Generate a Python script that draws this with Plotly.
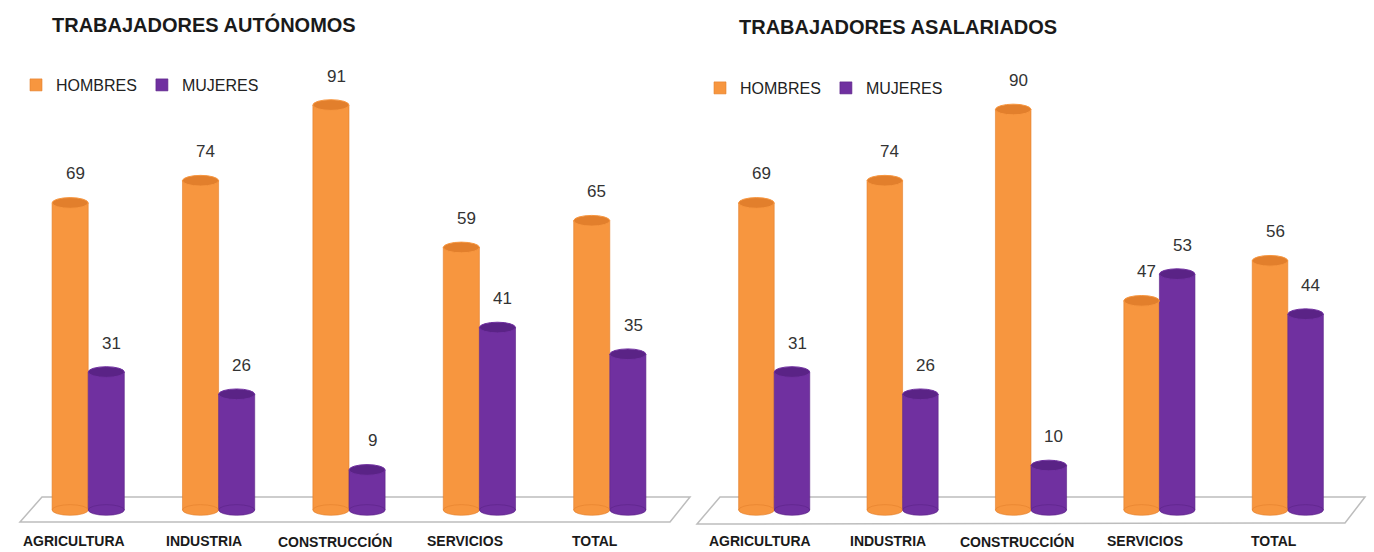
import plotly.graph_objects as go

categories = ["AGRICULTURA", "INDUSTRIA", "CONSTRUCCIÓN", "SERVICIOS", "TOTAL"]
auto_hombres = [69, 74, 91, 59, 65]
auto_mujeres = [31, 26, 9, 41, 35]
asal_hombres = [69, 74, 90, 47, 56]
asal_mujeres = [31, 26, 10, 53, 44]
series_names = ["HOMBRES", "MUJERES"]
titles = ["TRABAJADORES AUTÓNOMOS", "TRABAJADORES ASALARIADOS"]

ORANGE = "#F7963F"
ORANGE_TOP = "#E27F2C"
PURPLE = "#7030A0"
PURPLE_TOP = "#5A2386"
W, H = 1374, 552
BARGAP = 0.446
GW = 1 - BARGAP  # group width in category units


def px(xp):
    return xp / W


def py(yp):
    return 1 - yp / H


fig = go.Figure()
xs = list(range(len(categories)))
panels = [
    (auto_hombres, auto_mujeres, "x", "y", "legend"),
    (asal_hombres, asal_mujeres, "x2", "y2", "legend2"),
]
shapes = []
annotations = []
for hv, mv, xa, ya, lg in panels:
    for name, vals, col, topcol, side in [
        (series_names[0], hv, ORANGE, ORANGE_TOP, -1),
        (series_names[1], mv, PURPLE, PURPLE_TOP, 1),
    ]:
        fig.add_trace(go.Bar(
            x=xs, y=vals, name=name, xaxis=xa, yaxis=ya, legend=lg,
            marker=dict(color=col, line=dict(color=topcol, width=0.6)),
            hoverinfo="y",
        ))
        for i, v in enumerate(vals):
            if side < 0:
                x0, x1 = i - GW / 2, i
            else:
                x0, x1 = i, i + GW / 2
            # cylinder top and bottom ellipses
            shapes.append(dict(type="circle", xref=xa, yref=ya, x0=x0, x1=x1,
                               y0=v - 1.2, y1=v + 1.2, fillcolor=topcol,
                               line=dict(color=col, width=1)))
            shapes.append(dict(type="circle", xref=xa, yref=ya, x0=x0, x1=x1,
                               y0=-1.2, y1=1.2, fillcolor=col,
                               line=dict(color=topcol, width=0.6)))
            annotations.append(dict(
                x=(x0 + x1) / 2 + 0.04, y=v, xref=xa, yref=ya, yshift=29,
                text=str(v), showarrow=False,
                font=dict(family="Liberation Sans, Arial, sans-serif", size=17, color="#333333"),
            ))
    for i, c in enumerate(categories):
        annotations.append(dict(
            x=i - 0.11, y=py(541), xref=xa, yref="paper", text="<b>%s</b>" % c,
            showarrow=False, yanchor="middle",
            font=dict(family="Liberation Sans Narrow, Arial Narrow, sans-serif", size=14, color="#1a1a1a"),
        ))

# floors (decorative parallelograms)
for pts in [[(20, 522), (42, 497), (690, 497), (670, 522)],
            [(697, 524), (720, 497), (1365, 497), (1345, 523)]]:
    path = "M " + " L ".join("%f,%f" % (px(a), py(b)) for a, b in pts) + " Z"
    shapes.append(dict(type="path", xref="paper", yref="paper", path=path,
                       fillcolor="white", line=dict(color="#bdbdbd", width=1.5),
                       layer="below"))

# titles
annotations.append(dict(x=px(50), y=py(25), xref="paper", yref="paper", xanchor="left",
                        yanchor="middle", text="<b>%s</b>" % titles[0], showarrow=False,
                        font=dict(family="Liberation Sans, Arial, sans-serif", size=20, color="#1a1a1a")))
annotations.append(dict(x=px(737), y=py(27), xref="paper", yref="paper", xanchor="left",
                        yanchor="middle", text="<b>%s</b>" % titles[1], showarrow=False,
                        font=dict(family="Liberation Sans, Arial, sans-serif", size=20, color="#1a1a1a")))

ymin, ymax = -4, 100
ydom = [py(510 - 4.45 * ymin), py(510 - 4.45 * ymax)]
legend_font = dict(family="Liberation Sans, Arial, sans-serif", size=16, color="#222222")
fig.update_layout(
    width=W, height=H,
    margin=dict(l=0, r=0, t=0, b=0),
    paper_bgcolor="white", plot_bgcolor="rgba(0,0,0,0)",
    barmode="group", bargap=BARGAP, bargroupgap=0,
    showlegend=True,
    xaxis=dict(domain=[px(23), px(675)], range=[-0.5, 4.5], visible=False, fixedrange=True),
    yaxis=dict(domain=ydom, range=[ymin, ymax], visible=False, fixedrange=True),
    xaxis2=dict(domain=[px(710), px(1352)], range=[-0.5, 4.5], visible=False, fixedrange=True),
    yaxis2=dict(domain=ydom, range=[ymin, ymax], visible=False, fixedrange=True, anchor="x2"),
    legend=dict(orientation="h", x=px(16), y=py(85), xanchor="left", yanchor="middle",
                font=legend_font, bgcolor="rgba(0,0,0,0)", itemwidth=30, traceorder="normal"),
    legend2=dict(orientation="h", x=px(700), y=py(88), xanchor="left", yanchor="middle",
                 font=legend_font, bgcolor="rgba(0,0,0,0)", itemwidth=30, traceorder="normal"),
    shapes=shapes,
    annotations=annotations,
)
fig.update_xaxes(showgrid=False, zeroline=False)

fig.write_html("out.html", config={"displayModeBar": False},
               post_script="document.body.style.margin='0';")
